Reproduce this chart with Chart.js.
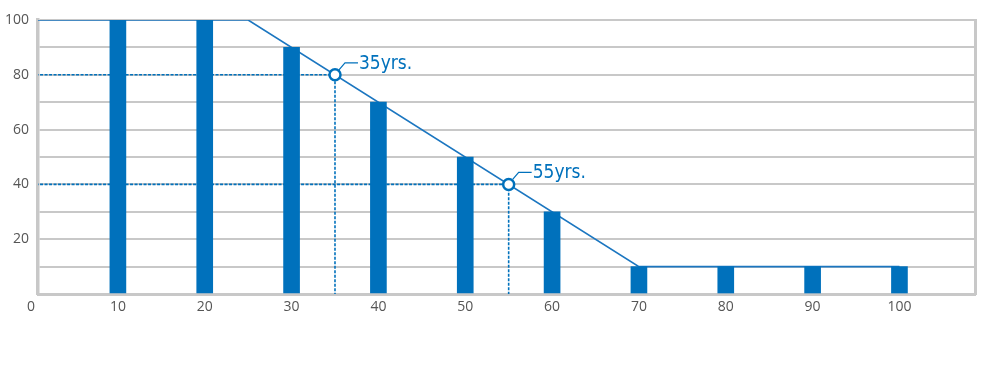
<!DOCTYPE html>
<html>
<head>
<meta charset="utf-8">
<script src="https://cdn.jsdelivr.net/npm/chart.js@4/dist/chart.umd.min.js"></script>
<style>
  html, body { margin: 0; padding: 0; background: #fff; }
  #wrap { width: 983px; height: 369px; position: relative; }
</style>
</head>
<body>
<div id="wrap"><canvas id="myChart"></canvas></div>
<script>
// data
var xTicks = [0, 10, 20, 30, 40, 50, 60, 70, 80, 90, 100];
var yTicks = [20, 40, 60, 80, 100];
var barAges = [10, 20, 30, 40, 50, 60, 70, 80, 90, 100];
var barValues = [100, 100, 90, 70, 50, 30, 10, 10, 10, 10];
var lineAges = [0, 25, 70, 100];
var lineValues = [100, 100, 10, 10];
var markAges = [35, 55];
var markValues = [80, 40];
var markLabels = ["35yrs.", "55yrs."];

var X_MIN = 0.8, X_MAX = 108.7;
var BLUE = "#0071bc";
var GRID = "#c8c8c8";

function pts(xs, ys) {
    return xs.map(function(x, i) { return { x: x, y: ys[i] }; });
}

var datasets = [
    {
        type: "bar",
        data: pts(barAges, barValues),
        backgroundColor: BLUE,
        barThickness: 16,
        order: 1
    },
    {
        type: "line",
        data: pts(lineAges, lineValues),
        borderColor: "#1b76c0",
        borderWidth: 1.6,
        pointRadius: 0,
        fill: false,
        tension: 0,
        order: 3
    },
    {
        type: "line",
        data: pts(markAges, markValues),
        showLine: false,
        pointRadius: 5.5,
        pointBorderWidth: 2.5,
        pointBackgroundColor: "#fff",
        pointBorderColor: BLUE,
        order: 0
    }
];

// dashed guides from the y axis to each mark and down to the x axis
markAges.forEach(function(a, i) {
    datasets.push({
        type: "line",
        data: [{ x: 0, y: markValues[i] }, { x: a, y: markValues[i] }, { x: a, y: 0 }],
        borderColor: BLUE,
        borderWidth: 1.6,
        borderDash: [3, 1.5],
        pointRadius: 0,
        fill: false,
        tension: 0,
        order: 2
    });
});

var markLabelPlugin = {
    id: "markLabels",
    afterDatasetsDraw: function(chart) {
        var c = chart.ctx, xs = chart.scales.x, ys = chart.scales.y;
        c.save();
        markAges.forEach(function(a, i) {
            var cx = xs.getPixelForValue(a), cy = ys.getPixelForValue(markValues[i]);
            c.strokeStyle = BLUE;
            c.lineWidth = 1.2;
            c.beginPath();
            c.moveTo(cx + 4, cy - 5);
            c.lineTo(cx + 10, cy - 12);
            c.lineTo(cx + 23, cy - 12);
            c.stroke();
            c.fillStyle = BLUE;
            c.font = "19px 'DejaVu Sans Condensed', 'Liberation Sans Narrow', sans-serif";
            c.textBaseline = "alphabetic";
            c.fillText(markLabels[i], cx + 24, cy - 6);
        });
        c.restore();
    }
};

var tickFont = { family: "'Open Sans', sans-serif", size: 14 };

new Chart(document.getElementById("myChart"), {
    type: "bar",
    data: { datasets: datasets },
    options: {
        responsive: true,
        maintainAspectRatio: false,
        animation: false,
        layout: { padding: { top: 20, left: 0, right: 0, bottom: 0 } },
        plugins: {
            legend: { display: false },
            tooltip: { enabled: false }
        },
        scales: {
            x: {
                type: "linear",
                min: X_MIN,
                max: X_MAX,
                offset: false,
                afterBuildTicks: function(s) {
                    s.ticks = xTicks.map(function(v) { return { value: v }; });
                },
                afterFit: function(s) { s.height = 75; },
                grid: { display: false, drawTicks: false },
                border: { display: true, color: GRID, width: 3 },
                ticks: { autoSkip: false, maxRotation: 0, padding: 5, color: "#555", font: tickFont }
            },
            y: {
                min: 0,
                max: 100,
                afterBuildTicks: function(s) {
                    s.ticks = [0, 10, 20, 30, 40, 50, 60, 70, 80, 90, 100].map(function(v) { return { value: v }; });
                },
                afterFit: function(s) { s.width = 38; },
                grid: { color: GRID, lineWidth: 2, drawTicks: false },
                border: { display: true, color: GRID, width: 3.5 },
                ticks: {
                    padding: 9,
                    color: "#555",
                    font: tickFont,
                    callback: function(v) { return yTicks.indexOf(v) >= 0 ? String(v) : ""; }
                }
            },
            yr: {
                position: "right",
                min: 0,
                max: 100,
                afterFit: function(s) { s.width = 4; },
                grid: { display: false, drawTicks: false },
                border: { display: true, color: GRID, width: 3 },
                ticks: { display: false }
            }
        }
    },
    plugins: [markLabelPlugin]
});
</script>
</body>
</html>
